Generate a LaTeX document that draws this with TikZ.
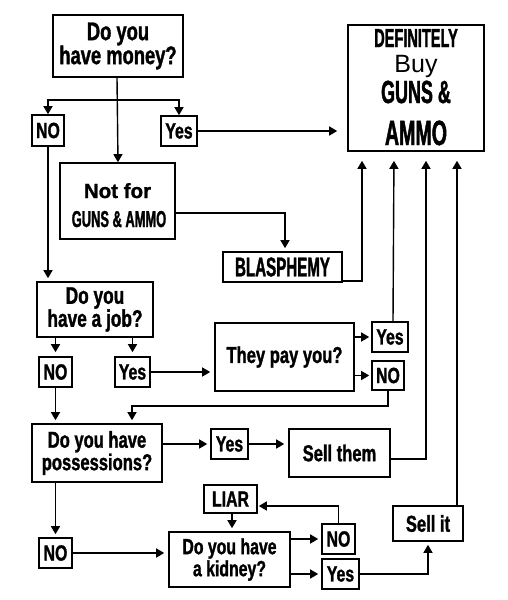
\documentclass[tikz,border=0pt]{standalone}
\usepackage{fontspec}
\setmainfont{Liberation Sans}[BoldFeatures={FakeBold=1.2}]
\newfontfamily\cf{Liberation Sans}[FakeStretch=0.72, BoldFeatures={FakeBold=1.3}]
\newfontfamily\bb{Liberation Sans}[FakeStretch=0.56, BoldFeatures={FakeBold=1.3}]
\usetikzlibrary{arrows.meta}
\begin{document}
\begin{tikzpicture}[x=1pt,y=-1pt,
  box/.style={draw, line width=1.6pt, inner sep=0pt, align=center, font=\cf\bfseries\fontsize{22}{23}\selectfont},
  arr/.style={-{Triangle[length=8pt,width=9pt]}, line width=1.4pt}]
\fill[white] (0,0) rectangle (508,600);
\useasboundingbox (0,0) rectangle (508,600);

% boxes
\node[box, minimum width=130pt, minimum height=62pt, font=\cf\bfseries\fontsize{25.5}{24}\selectfont] (money) at (118,46) {Do you\\have money?};
\node[box, minimum width=32pt, minimum height=31pt] (noA) at (48,130.5) {NO};
\node[box, minimum width=36pt, minimum height=30pt] (yesA) at (179,131) {Yes};
\node[box, minimum width=136pt, minimum height=126pt] (def) at (416,88) {};
\node[anchor=base, inner sep=0pt, font=\bb\bfseries\fontsize{26}{24}\selectfont] (defA) at (416,47) {DEFINITELY};
\node[anchor=base, inner sep=0pt, font=\fontsize{25}{26}\selectfont] (defB) at (416,72) {Buy};
\node[anchor=base, inner sep=0pt, font=\bb\bfseries\fontsize{32}{29}\selectfont] (defC) at (416,103) {GUNS \&};
\node[anchor=base, inner sep=0pt, font=\bb\bfseries\fontsize{35}{31}\selectfont] (defD) at (416,145) {AMMO};
\node[box, minimum width=115pt, minimum height=76pt] (notfor) at (117.5,201) {};
\node[anchor=base, inner sep=0pt, font=\bfseries\fontsize{20.5}{21}\selectfont] (nfA) at (117.5,198) {Not for};
\node[anchor=base, inner sep=0pt, font=\bb\bfseries\fontsize{23}{19}\selectfont] (nfB) at (119,227) {GUNS \& AMMO};
\node[box, minimum width=119pt, minimum height=30pt, font=\bb\bfseries\fontsize{27}{24}\selectfont] (blas) at (282.5,267) {BLASPHEMY};
\node[box, minimum width=116pt, minimum height=55pt, font=\cf\bfseries\fontsize{24}{23}\selectfont] (job) at (95,309.5) {Do you\\have a job?};
\node[box, minimum width=33pt, minimum height=30pt] (noB) at (55.5,372) {NO};
\node[box, minimum width=35pt, minimum height=30pt] (yesB) at (132.5,372) {Yes};
\node[box, minimum width=139pt, minimum height=68pt, font=\cf\bfseries\fontsize{23}{22}\selectfont] (pay) at (284.5,357) {They pay you?};
\node[box, minimum width=36pt, minimum height=30pt] (yesC) at (390,337) {Yes};
\node[box, minimum width=32pt, minimum height=29pt] (noC) at (388,375.5) {NO};
\node[box, minimum width=130pt, minimum height=58pt, font=\cf\bfseries\fontsize{23}{21}\selectfont] (poss) at (97,453) {Do you have\\possessions?};
\node[box, minimum width=37pt, minimum height=30pt] (yesD) at (229.5,444) {Yes};
\node[box, minimum width=101pt, minimum height=48pt, font=\cf\bfseries\fontsize{23}{22}\selectfont] (sellthem) at (339.5,453) {Sell them};
\node[box, minimum width=33pt, minimum height=30pt] (noE) at (55.5,553) {NO};
\node[box, minimum width=121pt, minimum height=55pt, font=\cf\bfseries\fontsize{22}{22}\selectfont] (kidney) at (229.5,559.5) {Do you have\\a kidney?};
\node[box, minimum width=53pt, minimum height=28pt] (liar) at (230.5,499) {LIAR};
\node[box, minimum width=33pt, minimum height=30pt] (noF) at (338.5,539) {NO};
\node[box, minimum width=37pt, minimum height=30pt] (yesF) at (340.5,574) {Yes};
\node[box, minimum width=70pt, minimum height=35pt, font=\cf\bfseries\fontsize{23}{22}\selectfont] (sellit) at (428,523.5) {Sell it};

% connectors
\coordinate (br) at (117,100);
\draw[arr] (money.south -| br) -- (money.south |- notfor.north);
\draw[arr] (br) -| (noA.north);
\draw[arr] (br) -| (yesA.north);
\draw[arr, shorten >=10pt] (yesA.east) -- (yesA.east -| def.west);
\draw[arr, shorten >=3pt] (noA.south) -- (noA.south |- job.north);
\draw[arr, shorten >=3pt] ([yshift=-12pt]notfor.east) -| ([xshift=2.5pt]blas.north);
\draw[arr, shorten >=9pt] ([yshift=-14pt]blas.east) -| ([xshift=-54pt]def.south);
\draw[arr, shorten >=4pt] (noB.north |- job.south) -- (noB.north);
\draw[arr, shorten >=4pt] (yesB.north |- job.south) -- (yesB.north);
\draw[arr, shorten >=4pt] (yesB.east) -- (yesB.east -| pay.west);
\draw[arr, shorten >=2pt] (pay.east |- yesC.west) -- (yesC.west);
\draw[arr, shorten >=2pt] (pay.east |- noC.west) -- (noC.west);
\draw[arr, shorten >=9pt] ([xshift=3pt]yesC.north) -- ([xshift=-22pt]def.south);
\draw[arr, shorten >=3pt] (noC.south) -- ++(0,15) -| ([xshift=35pt]poss.north);
\draw[arr, shorten >=3pt] (noB.south) -- (noB.south |- poss.north);
\draw[arr, shorten >=3pt] (yesD.west -| poss.east) -- (yesD.west);
\draw[arr, shorten >=4pt] (yesD.east) -- (yesD.east -| sellthem.west);
\draw[arr, shorten >=9pt] ([yshift=-6pt]sellthem.east) -| ([xshift=10pt]def.south);
\draw[arr, shorten >=3pt] (noE.north |- poss.south) -- (noE.north);
\draw[arr, shorten >=4pt] (noE.east) -- (noE.east -| kidney.west);
\draw[arr, shorten >=3pt] ([xshift=1.5pt]liar.south) -- ([xshift=1.5pt]liar.south |- kidney.north);
\draw[arr, shorten >=3pt] (noF.west -| kidney.east) -- (noF.west);
\draw[arr, shorten >=3pt] (yesF.west -| kidney.east) -- (yesF.west);
\draw[arr, shorten >=1pt] (noF.north) |- ([yshift=-7pt]liar.east);
\draw[arr, shorten >=3pt] (yesF.east) -| (sellit.south);
\draw[arr, shorten >=9pt] ([xshift=29pt]sellit.north) -- ([xshift=41pt]def.south);
\end{tikzpicture}
\end{document}
